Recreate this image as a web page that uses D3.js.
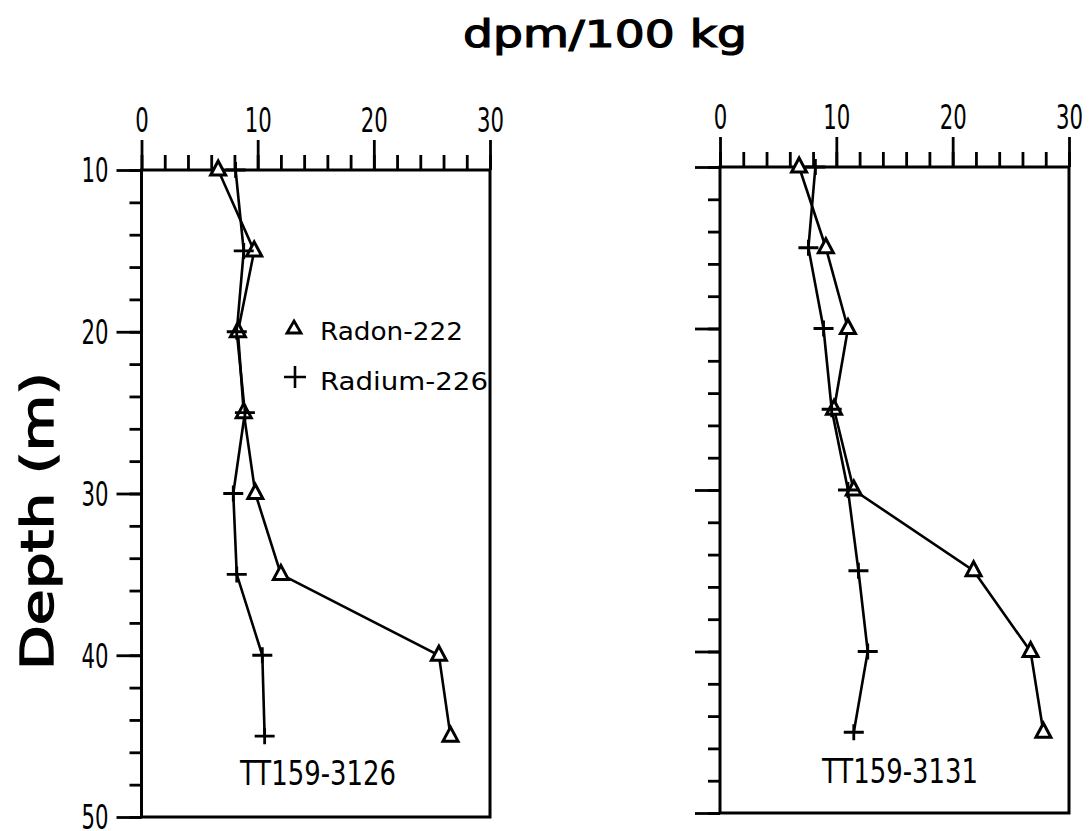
<!DOCTYPE html>
<html><head><meta charset="utf-8">
<script src="https://cdn.jsdelivr.net/npm/d3@7"></script>
<style>body{margin:0;background:#fff}</style>
</head><body><svg id="c" width="1091" height="831"></svg>
<script>
const depths = [10, 15, 20, 25, 30, 35, 40, 45];
const radon3126 = [6.6, 9.7, 8.3, 8.8, 9.8, 12.0, 25.6, 26.6];
const radium3126 = [8.1, 8.8, 8.2, 8.9, 7.9, 8.2, 10.4, 10.6];
const radon3131 = [6.8, 9.1, 11.0, 9.8, 11.5, 21.8, 26.7, 27.8];
const radium3131 = [8.2, 7.6, 8.9, 9.6, 11.0, 11.9, 12.7, 11.5];
const xMajorTicks = [0, 10, 20, 30];
const yMajorTicks = [10, 20, 30, 40, 50];
const stations = ["TT159-3126", "TT159-3131"];
const legendLabels = ["Radon-222", "Radium-226"];
const xTitle = "dpm/100 kg";
const yTitle = "Depth (m)";

const svg = d3.select("#c");
const FONT = "'DejaVu Sans Condensed','Liberation Sans Narrow','Liberation Sans',sans-serif";
const TITLEFONT = "'DejaVu Sans',sans-serif";

const panels = [
  {x0: 141.5, x1: 490, y0: 170, y1: 817, radon: radon3126, radium: radium3126, name: stations[0], nameX: 318, nameY: 785, labels: true, legend: true},
  {x0: 720, x1: 1069, y0: 167, y1: 813, radon: radon3131, radium: radium3131, name: stations[1], nameX: 900, nameY: 783, labels: false, legend: false}
];

const triPath = "M0,-9L7.5,5L-7.5,5Z";
const plusPath = "M-10,0H10M0,-8V8";
const digitW = 13.5;

panels.forEach(p => {
  const x = d3.scaleLinear().domain([0, 30]).range([p.x0, p.x1]);
  const y = d3.scaleLinear().domain([10, 50]).range([p.y0, p.y1]);
  const g = svg.append("g");

  const ax1 = g.append("g").attr("transform", `translate(0,${p.y0})`)
    .call(d3.axisTop(x).tickValues(d3.range(0, 31, 2)).tickSize(15).tickFormat(""));
  const ax2 = g.append("g").attr("transform", `translate(0,${p.y0})`)
    .call(d3.axisTop(x).tickValues(xMajorTicks).tickSize(30).tickPadding(8).tickFormat(d3.format("d")));
  const ay1 = g.append("g").attr("transform", `translate(${p.x0},0)`)
    .call(d3.axisLeft(y).tickValues(d3.range(10, 51, 2)).tickSize(12).tickFormat(""));
  const ay2 = g.append("g").attr("transform", `translate(${p.x0},0)`)
    .call(d3.axisLeft(y).tickValues(yMajorTicks).tickSize(25).tickPadding(8)
      .tickFormat(p.labels ? d3.format("d") : () => ""));
  [ax1, ax2, ay1, ay2].forEach(a => {
    a.select(".domain").remove();
    a.selectAll("line").attr("stroke", "#000").attr("stroke-width", 2.8);
    a.selectAll("text").attr("fill", "#000").style("font-family", FONT).style("font-size", "33px")
      .each(function() {
        const t = d3.select(this).text();
        if (t) d3.select(this).attr("textLength", t.length * digitW).attr("lengthAdjust", "spacingAndGlyphs");
      });
  });
  ay2.selectAll("text").attr("dy", "0.36em");

  g.append("rect").attr("x", p.x0).attr("y", p.y0).attr("width", p.x1 - p.x0).attr("height", p.y1 - p.y0)
    .attr("fill", "none").attr("stroke", "#000").attr("stroke-width", 3);

  const line = d3.line().x(d => x(d[0])).y(d => y(d[1]));
  const radonPts = depths.map((d, i) => [p.radon[i], d]);
  const radiumPts = depths.map((d, i) => [p.radium[i], d]);
  g.append("path").attr("d", line(radonPts)).attr("fill", "none").attr("stroke", "#000").attr("stroke-width", 2.6);
  g.append("path").attr("d", line(radiumPts)).attr("fill", "none").attr("stroke", "#000").attr("stroke-width", 2.6);
  g.selectAll(".tri").data(radonPts).join("path").attr("class", "tri")
    .attr("transform", d => `translate(${x(d[0])},${y(d[1])})`)
    .attr("d", triPath).attr("fill", "#fff").attr("stroke", "#000").attr("stroke-width", 3);
  g.selectAll(".plus").data(radiumPts).join("path").attr("class", "plus")
    .attr("transform", d => `translate(${x(d[0])},${y(d[1])})`)
    .attr("d", plusPath).attr("fill", "none").attr("stroke", "#000").attr("stroke-width", 2.8);

  g.append("text").attr("x", p.nameX).attr("y", p.nameY)
    .attr("text-anchor", "middle").style("font-family", FONT).style("font-size", "34px")
    .attr("textLength", 156).attr("lengthAdjust", "spacingAndGlyphs").text(p.name);

  if (p.legend) {
    const lg = g.append("g");
    lg.append("path").attr("transform", "translate(294,328)").attr("d", "M0,-7L7,5L-7,5Z")
      .attr("fill", "none").attr("stroke", "#000").attr("stroke-width", 2.8);
    lg.append("text").attr("x", 320).attr("y", 340).style("font-family", FONT).style("font-size", "24px")
      .attr("textLength", 143).attr("lengthAdjust", "spacingAndGlyphs").text(legendLabels[0]);
    lg.append("path").attr("transform", "translate(295,377)").attr("d", "M-11,0H11M0,-11V11")
      .attr("fill", "none").attr("stroke", "#000").attr("stroke-width", 2.6);
    lg.append("text").attr("x", 320).attr("y", 390).style("font-family", FONT).style("font-size", "24px")
      .attr("textLength", 168).attr("lengthAdjust", "spacingAndGlyphs").text(legendLabels[1]);
  }
});

svg.append("text").attr("x", 605).attr("y", 47).attr("text-anchor", "middle")
  .style("font-family", TITLEFONT).style("font-size", "37px")
  .attr("stroke", "#000").attr("stroke-width", 1.2)
  .attr("textLength", 284).attr("lengthAdjust", "spacingAndGlyphs").text(xTitle);
svg.append("text").attr("transform", "translate(53,521) rotate(-90)").attr("text-anchor", "middle")
  .style("font-family", TITLEFONT).style("font-size", "45px")
  .attr("stroke", "#000").attr("stroke-width", 1.4)
  .attr("textLength", 298).attr("lengthAdjust", "spacingAndGlyphs").text(yTitle);
</script></body></html>
